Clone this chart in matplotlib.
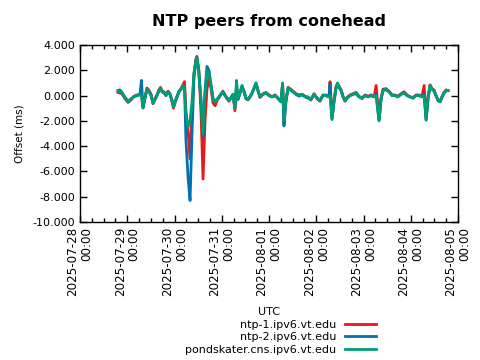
"""
NTP peers offset chart (conehead)
"""

import matplotlib
matplotlib.use('Agg')
import matplotlib.pyplot as plt
import matplotlib.dates as mdates
import pandas as pd
from matplotlib.ticker import FuncFormatter, MultipleLocator

plt.close('all')

# ============================================================
# Data: hours since 2025-07-28 00:00 UTC, offsets in ms
# ============================================================
START = pd.Timestamp('2025-07-28 00:00')

hours = [
    19.3, 20.3, 21.3, 22.9, 24.4, 25.9, 27.4, 29.0, 30.5, 31.2,
    32.0, 33.0, 34.0, 35.1, 36.1, 37.1, 38.1, 39.1, 40.1, 40.9,
    41.7, 42.7, 43.7, 44.7, 45.7, 46.7, 47.5, 48.3, 49.3, 50.3,
    51.3, 52.3, 53.1, 53.8, 54.9, 55.9, 56.9, 57.9, 58.9, 59.4,
    60.4, 61.5, 62.5, 63.5, 64.5, 65.5, 66.5, 67.6, 68.6, 69.6,
    70.6, 71.6, 72.6, 73.7, 74.7, 75.7, 76.7, 77.7, 78.7, 79.5,
    80.3, 81.3, 82.3, 83.3, 84.3, 85.3, 86.4, 87.4, 89.4, 90.4,
    91.4, 93.0, 94.5, 96.0, 97.5, 99.1, 100.6, 102.1, 102.9, 103.6,
    104.6, 105.7, 106.7, 108.2, 109.7, 111.3, 112.8, 114.3, 115.8, 117.3,
    118.9, 120.4, 121.9, 123.4, 124.9, 126.5, 127.0, 128.0, 129.0, 130.0,
    130.8, 131.6, 132.6, 133.6, 134.6, 135.6, 137.2, 138.7, 140.2, 141.7,
    143.3, 144.8, 146.3, 147.8, 149.4, 150.4, 151.9, 152.9, 153.9, 155.4,
    157.0, 158.5, 160.0, 161.5, 163.1, 164.6, 166.1, 167.6, 169.2, 170.7,
    172.2, 173.7, 174.8, 175.8, 176.8, 177.8, 178.8, 179.8, 180.8, 181.9,
    182.9, 183.9, 184.9, 185.9, 186.9,
]

ntp1 = [
    0.25, 0.20, 0.15, -0.25, -0.55, -0.35, -0.05, 0.05, 0.10, 0.05,
    -0.90, -0.10, 0.60, 0.40, 0.10, -0.65, -0.25, 0.05, 0.45, 0.65,
    0.35, 0.30, 0.05, 0.35, 0.15, -0.45, -1.00, -0.55, -0.10, 0.30,
    0.55, 0.85, 1.10, -1.20, -2.80, -5.00, -1.50, 1.70, 2.90, 3.10,
    2.00, -1.50, -6.60, -2.00, 0.50, 1.40, 0.60, -0.60, -0.80, -0.40,
    -0.15, 0.10, 0.35, 0.05, -0.25, -0.45, -0.20, 0.10, -1.20, 0.60,
    -0.20, 0.25, 0.70, 0.35, -0.25, -0.35, -0.10, 0.20, 0.90, 0.45,
    -0.15, 0.15, 0.25, 0.05, -0.10, 0.05, -0.25, -0.45, 0.90, -2.20,
    -0.40, 0.65, 0.55, 0.35, 0.15, 0.05, 0.10, -0.05, -0.15, -0.35,
    0.15, -0.25, -0.45, 0.05, 0.00, -0.10, 1.10, -1.80, -0.40, 0.70,
    0.90, 0.75, 0.45, -0.05, -0.45, -0.15, 0.05, 0.15, 0.25, -0.05,
    -0.25, 0.05, -0.05, 0.05, -0.10, 0.80, -1.90, -0.20, 0.50, 0.55,
    0.35, 0.05, 0.05, -0.05, 0.15, 0.30, 0.05, -0.10, -0.20, 0.05,
    0.05, -0.05, 0.80, -1.80, -0.10, 0.85, 0.55, 0.45, 0.05, -0.35,
    -0.50, -0.10, 0.25, 0.45, 0.40,
]

ntp2 = [
    0.40, 0.45, 0.25, -0.15, -0.45, -0.25, -0.10, 0.00, 0.10, 1.20,
    -0.95, -0.20, 0.45, 0.30, 0.00, -0.55, -0.30, 0.00, 0.40, 0.55,
    0.30, 0.20, 0.00, 0.30, 0.10, -0.35, -0.85, -0.45, -0.05, 0.35,
    0.50, 0.75, 0.60, -3.50, -6.50, -8.30, -3.00, 1.50, 2.70, 2.95,
    1.70, -0.40, -3.20, 0.30, 2.30, 2.00, 0.90, -0.25, -0.45, -0.30,
    -0.10, 0.10, 0.25, 0.00, -0.20, -0.35, -0.15, 0.05, -0.90, 0.70,
    -0.30, 0.20, 0.75, 0.30, -0.20, -0.30, -0.05, 0.20, 1.00, 0.35,
    -0.10, 0.10, 0.20, 0.00, -0.10, 0.00, -0.20, -0.50, 0.95, -2.40,
    -0.50, 0.55, 0.45, 0.30, 0.10, -0.05, 0.05, -0.10, -0.20, -0.30,
    0.10, -0.20, -0.35, 0.00, 0.05, -0.10, 0.90, -1.85, -0.50, 0.50,
    0.95, 0.65, 0.40, -0.10, -0.40, -0.20, 0.00, 0.10, 0.15, -0.10,
    -0.15, 0.00, -0.10, 0.00, -0.10, 0.10, -1.95, -0.30, 0.40, 0.45,
    0.30, 0.00, 0.00, -0.10, 0.10, 0.20, 0.00, -0.10, -0.15, 0.00,
    0.00, -0.10, 0.10, -1.95, -0.20, 0.75, 0.50, 0.35, 0.00, -0.40,
    -0.45, -0.10, 0.20, 0.35, 0.40,
]

pondskater = [
    0.35, 0.30, 0.20, -0.20, -0.50, -0.30, -0.10, 0.00, 0.05, 0.00,
    -1.00, -0.20, 0.50, 0.30, 0.00, -0.60, -0.30, 0.00, 0.40, 0.60,
    0.30, 0.20, 0.00, 0.30, 0.10, -0.40, -0.90, -0.50, -0.10, 0.30,
    0.50, 0.80, 0.50, -1.50, -2.50, -2.00, -0.50, 1.80, 2.80, 3.00,
    1.80, -0.50, -3.00, 0.20, 2.00, 1.80, 0.80, -0.30, -0.50, -0.30,
    -0.10, 0.10, 0.30, 0.00, -0.20, -0.40, -0.20, 0.10, -1.00, 1.20,
    -0.30, 0.20, 0.80, 0.30, -0.20, -0.30, -0.10, 0.20, 1.00, 0.40,
    -0.10, 0.10, 0.20, 0.00, -0.10, 0.00, -0.20, -0.50, 1.00, -2.00,
    -0.30, 0.60, 0.50, 0.30, 0.10, 0.00, 0.10, -0.10, -0.10, -0.30,
    0.10, -0.20, -0.40, 0.00, 0.00, -0.10, 0.00, -1.90, -0.50, 0.60,
    1.00, 0.70, 0.40, -0.10, -0.40, -0.20, 0.00, 0.10, 0.20, -0.10,
    -0.20, 0.00, -0.10, 0.00, -0.10, 0.00, -2.00, -0.30, 0.40, 0.50,
    0.30, 0.00, 0.00, -0.10, 0.10, 0.20, 0.00, -0.10, -0.20, 0.00,
    0.00, -0.10, 0.00, -1.90, -0.20, 0.80, 0.50, 0.40, 0.00, -0.40,
    -0.50, -0.10, 0.20, 0.40, 0.40,
]

series_names = ['ntp-1.ipv6.vt.edu', 'ntp-2.ipv6.vt.edu', 'pondskater.cns.ipv6.vt.edu']
series_colors = ['#e41a1c', '#0072b2', '#009e73']
day_ticks = pd.date_range('2025-07-28', '2025-08-05', freq='D')

times = START + pd.to_timedelta(hours, unit='h')

# ============================================================
# Plot
# ============================================================
fig = plt.figure(figsize=(4.8, 3.6), dpi=100)
ax = fig.add_axes([80/480, 1 - 222/360, 378/480, 177/360])

for vals, name, color in zip([ntp1, ntp2, pondskater], series_names, series_colors):
    ax.plot(times, vals, color=color, lw=2.0, label=name, solid_joinstyle='round')

ax.set_xlim(day_ticks[0], day_ticks[-1])
ax.set_ylim(-10, 4)
ax.yaxis.set_major_locator(MultipleLocator(2))
ax.yaxis.set_major_formatter(FuncFormatter(lambda y, _: f"{y:.3f}"))

ax.set_xticks(day_ticks)
ax.set_xticklabels([d.strftime('%Y-%m-%d\n%H:%M') for d in day_ticks],
                   rotation=90, fontsize=8.6, ha='center', va='top',
                   multialignment='right', linespacing=1.1)
ax.xaxis.set_minor_locator(mdates.HourLocator(byhour=[6, 12, 18]))

ax.tick_params(which='both', direction='in', top=True, right=True, width=1)
ax.tick_params(which='major', length=5)
ax.tick_params(axis='y', labelsize=8)
ax.tick_params(which='minor', length=3)
for sp in ax.spines.values():
    sp.set_linewidth(1)

ax.set_title('NTP peers from conehead', fontsize=11.5, fontweight='bold', pad=14)
ax.set_ylabel('Offset (ms)', fontsize=7.5, labelpad=6)
ax.set_xlabel('UTC', fontsize=8, labelpad=8)

fig.legend(loc='upper right', bbox_to_anchor=(382/480, 1 - 314/360),
           frameon=False, markerfirst=False, fontsize=8, handlelength=2.8,
           labelspacing=0.25, borderpad=0, handletextpad=0.8)

fig.savefig('out.png', dpi=100)
